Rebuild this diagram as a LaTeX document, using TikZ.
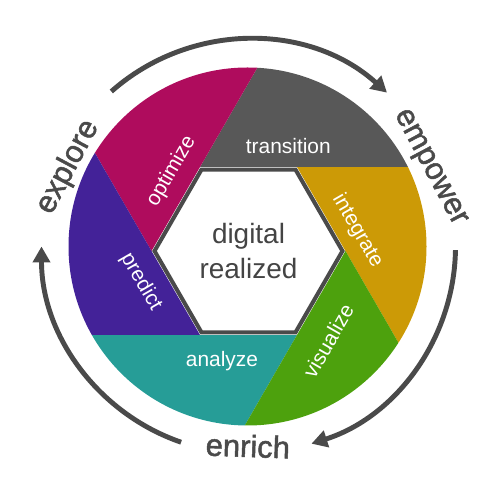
\documentclass[tikz,border=0pt]{standalone}
\usepackage{fontspec}
\setmainfont{Liberation Sans}
\newfontfamily\cyclefont[FakeBold=1.6]{Liberation Sans}
\usepackage{tikz}
\usetikzlibrary{calc, arrows.meta, shapes.geometric}

\definecolor{transgray}{RGB}{88,88,88}
\definecolor{integgold}{RGB}{204,154,6}
\definecolor{visugreen}{RGB}{77,161,13}
\definecolor{analteal}{RGB}{38,157,151}
\definecolor{predpurple}{RGB}{67,34,152}
\definecolor{optimmagenta}{RGB}{175,12,93}
\definecolor{hexgray}{RGB}{74,74,74}
\definecolor{coregray}{RGB}{68,68,68}
\definecolor{arrowgray}{RGB}{74,74,74}

\begin{document}
\begin{tikzpicture}[x=0.02cm, y=0.02cm,
  seglabel/.style={text=white, inner sep=0pt, font=\fontsize{11.9}{14}\selectfont},
  cyclelabel/.style={text=arrowgray, inner sep=0pt, font=\cyclefont\fontsize{17.6}{20}\selectfont},
  cyclearrow/.style={draw=arrowgray, line width=2.8pt, -{Triangle[length=9pt, width=9.6pt]}},
  hexcore/.style={regular polygon, regular polygon sides=6, minimum size=3.76cm,
    draw=hexgray, line width=2.3pt, fill=white, inner sep=0pt,
    text=coregray, align=center, font=\fontsize{15.9}{19.8}\selectfont}]
  \useasboundingbox (0,0) rectangle (500,500);
  \coordinate (C) at (247.5,253.5);
  \coordinate (H) at (248.5,249);
  \coordinate (A) at (248.5,253.5);
  \foreach \k in {0,...,5}{
    \coordinate (v\k) at ($(H)+(60*\k:97)$);
  }
  % shutter blades
  \foreach \k/\prev/\col in {1/0/integgold, 2/1/transgray, 3/2/optimmagenta,
                             4/3/predpurple, 5/4/analteal, 0/5/visugreen}{
    \begin{scope}
      \clip (v\k) -- ++(60*\k-60:400) -- ($(v\prev)+(60*\k-120:400)$) -- (v\prev) -- cycle;
      \fill[\col] (C) circle (179);
    \end{scope}
  }
  \node[hexcore] (core) at (H) {digital\\realized};

  % blade labels
  \node[seglabel] (transition) at (288.3,353.5) {transition};
  \node[seglabel, rotate=-60] (integrate) at (357.5,269) {integrate};
  \node[seglabel, rotate=60] (visualize) at (328.3,159.2) {visualize};
  \node[seglabel, anchor=base] (analyze) at (222,133.3) {analyze};
  \node[seglabel, rotate=-60] (predict) at (141,218) {predict};
  \node[seglabel, rotate=60] (optimize) at (171.5,328.5) {optimize};

  % cycle
  \draw[cyclearrow] ($(A)+(131.5:207)$) arc[start angle=131.5, end angle=48, radius=207];
  \draw[cyclearrow] ($(A)+(-1:207)$) arc[start angle=-1, end angle=-72.3, radius=207];
  \draw[cyclearrow] ($(A)+(251:207)$) arc[start angle=251, end angle=180, radius=207];
  \node[cyclelabel, rotate=62] (explore) at (68,333) {explore};
  \node[cyclelabel, rotate=-62] (empower) at (429,332) {empower};
  \node[cyclelabel, rotate=-2, anchor=base] (enrich) at (247.5,43) {enrich};
\end{tikzpicture}
\end{document}
